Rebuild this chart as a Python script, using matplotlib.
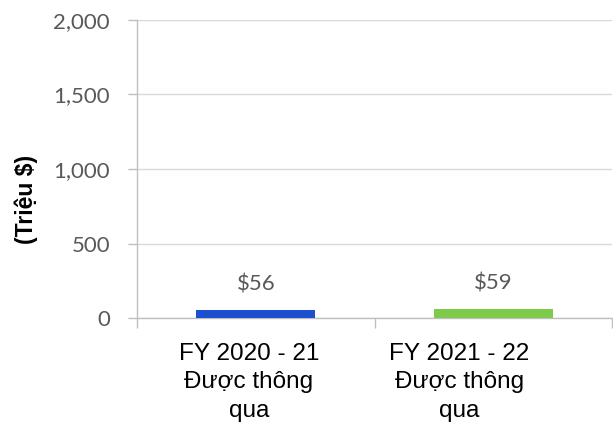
import matplotlib.pyplot as plt
import matplotlib.transforms as mtransforms

# Chart data
categories = ['FY 2020 - 21\nĐược thông\nqua', 'FY 2021 - 22\nĐược thông\nqua']
values = [56, 59]
value_labels = ['$56', '$59']
bar_colors = ['#1f4fd1', '#7ecb4c']
y_ticks = [0, 500, 1000, 1500, 2000]
y_tick_labels = ['0', '500', '1,000', '1,500', '2,000']

fig = plt.figure(figsize=(6.13, 4.29), dpi=100)
ax = fig.add_axes([0.2235, 0.2587, 0.7755, 0.6947])

x = list(range(len(categories)))
ax.bar(x, values, width=0.5, color=bar_colors, zorder=3)

# Value labels above bars
for xi, v, lab in zip(x, values, value_labels):
    ax.annotate(lab, (xi, v), xytext=(0, 11), textcoords='offset points',
                ha='center', va='bottom', fontsize=16, color='#595959',
                family='Lato')

ax.set_xlim(-0.5, 1.5)
ax.set_ylim(0, 2000)
ax.set_yticks(y_ticks)
ax.set_yticklabels(y_tick_labels, fontsize=16, color='#595959', family='Lato')
ax.tick_params(axis='y', length=6.5, width=1, color='#bfbfbf', pad=13)

ax.set_xticks(x)
ax.set_xticklabels(categories, fontsize=17.5, color='black',
                   family='Liberation Sans', linespacing=1.38)
ax.set_xticks([-0.5, 0.5, 1.5], minor=True)
ax.tick_params(axis='x', which='major', length=0, pad=18)
ax.tick_params(axis='x', which='minor', length=7, width=1, color='#bfbfbf')

# labels in the picture sit a little left of their category centre
shifts = [-7, -34]
for lab, dx in zip(ax.get_xticklabels(), shifts):
    lab.set_transform(lab.get_transform() +
                      mtransforms.ScaledTranslation(dx / 100, 0, fig.dpi_scale_trans))

ax.grid(axis='y', color='#d9d9d9', linewidth=1, zorder=0)
for side in ['top', 'right']:
    ax.spines[side].set_visible(False)
for side in ['left', 'bottom']:
    ax.spines[side].set_color('#bfbfbf')
    ax.spines[side].set_linewidth(1)

fig.text(0.043, 0.534, '(Triệu $)', rotation=90, ha='center', va='center',
         fontsize=16.5, fontweight='bold', family='Liberation Sans')

fig.savefig('out.png', dpi=100)
